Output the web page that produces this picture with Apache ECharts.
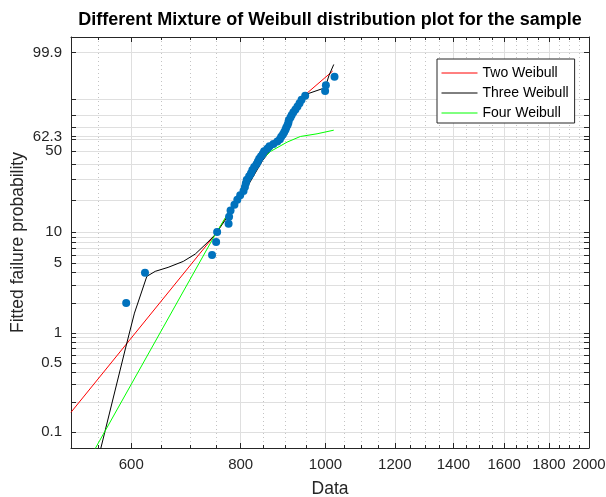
<!DOCTYPE html>
<html>
<head>
<meta charset="utf-8">
<script src="https://cdn.jsdelivr.net/npm/echarts@6/dist/echarts.min.js"></script>
<style>
html,body{margin:0;padding:0;background:#ffffff;}
#chart{width:606px;height:497px;}
</style>
</head>
<body>
<div id="chart"></div>
<script>
// ---------------- data ----------------
// sample points: failure probability (%) and data value
const samplePct = [2, 4, 6, 8, 10, 12, 14, 16, 18, 20, 22, 24, 26, 28, 30, 32, 34, 36, 38, 40,
  42, 44, 46, 48, 50, 52, 54, 56, 58, 60, 62, 64, 66, 68, 70, 72, 74, 76, 78, 80,
  82, 84, 86, 88, 90, 92, 94, 96, 98];
const sampleData = [592, 622, 742, 750, 752, 775, 776, 779, 787, 793, 799, 806, 809, 811, 813, 818, 822, 825, 829, 834,
  837, 840, 844, 848, 851, 858, 863, 872, 881, 887, 890, 894, 897, 900, 902, 905, 907, 908, 912, 915,
  919, 924, 929, 934, 939, 948, 999, 1001, 1024];

// fitted curves
const twoWeibullX   = [512, 748, 802, 845, 900, 936, 948.5, 1019];
const twoWeibullPct = [0.158, 9.43, 23.2, 42.5, 68.0, 88.0, 92.5, 98.86];

const threeWeibullX   = [552, 591, 605, 625, 639, 661, 688, 710, 732, 748, 804, 847, 900, 936, 948.5, 999, 1009, 1022];
const threeWeibullPct = [0.061, 0.703, 1.58, 3.68, 4.13, 4.52, 5.18, 6.12, 7.83, 9.43, 22.1, 42.5, 67.1, 87.6, 92.5, 95.2, 98.2, 99.46];

const fourWeibullX   = [542, 748, 816, 839, 865, 904, 936, 978, 1022];
const fourWeibullPct = [0.061, 9.43, 29.9, 40.8, 49.7, 57.5, 62.3, 64.6, 67.7];

// axes
const xMajorTicks = [600, 800, 1000, 1200, 1400, 1600, 1800, 2000];
const xMinorTicks = [550, 650, 700, 750, 850, 900, 950, 1050, 1100, 1150, 1250, 1300, 1350,
  1450, 1500, 1550, 1650, 1700, 1750, 1850, 1900, 1950];
const yGridPct  = [0.1, 0.2, 0.3, 0.4, 0.5, 0.6, 0.7, 0.8, 0.9, 1, 2, 3, 4, 5, 6, 7, 8, 9,
  10, 20, 30, 40, 50, 60, 62.3, 70, 80, 90, 99.9];
const yLabelPct = [0.1, 0.5, 1, 5, 10, 50, 62.3, 99.9];
const xLimits = [512, 2000];
const yLimitsPct = [0.0688, 99.995];

const titleText = 'Different Mixture of Weibull distribution plot for the sample';
const xName = 'Data';
const yName = 'Fitted failure probability';
const legendNames = ['Two Weibull', 'Three Weibull', 'Four Weibull'];

// ---------------- Weibull probability paper transforms ----------------
const tx = v => Math.log(v);
const ty = p => Math.log(-Math.log(1 - p / 100));
const pairs = (xs, ps) => xs.map((x, i) => [tx(x), ty(ps[i])]);

const FONT = "'Liberation Sans', Arial, Helvetica, sans-serif";
const AX = '#262626';
const GRID = '#dfdfdf';
const MINOR = '#c4c4c4';

const xMin = tx(xLimits[0]), xMax = tx(xLimits[1]);
const yMin = ty(yLimitsPct[0]), yMax = ty(yLimitsPct[1]);

const gridLeft = 71, gridRight = 17, gridTop = 37, gridBottom = 49;
const W = 606;
const plotCenter = gridLeft + (W - gridLeft - gridRight) / 2;

// title width for centering over the plot area
const TITLE_SIZE = 18;
const cv = document.createElement('canvas').getContext('2d');
cv.font = 'bold ' + TITLE_SIZE + "px 'Liberation Sans', Arial, sans-serif";
const titleW = cv.measureText(titleText).width;

const yLabelVals = yLabelPct.map(ty);
function yLabelFmt(v) {
  let best = 0, bd = Infinity;
  yLabelVals.forEach((lv, i) => { const d = Math.abs(lv - v); if (d < bd) { bd = d; best = i; } });
  return String(yLabelPct[best]);
}

function xAxisDef(position, ticks, len, labels, split) {
  return {
    type: 'value', position: position, min: xMin, max: xMax,
    axisLine: { show: len === 5, onZero: false, lineStyle: { color: AX, width: 1 } },
    axisTick: { show: true, inside: true, length: len, customValues: ticks.map(tx), lineStyle: { color: AX, width: 1 } },
    axisLabel: labels ? {
      show: true, customValues: ticks.map(tx), showMinLabel: true, showMaxLabel: true,
      formatter: v => String(Math.round(Math.exp(v))),
      fontFamily: FONT, fontSize: 15, color: AX, margin: 9
    } : { show: false },
    splitLine: split || { show: false },
    axisPointer: { show: false }
  };
}

const xAxes = [
  xAxisDef('bottom', xMajorTicks, 5, true, { show: true, lineStyle: { color: GRID, width: 1 } }),
  xAxisDef('bottom', xMinorTicks, 3, false, { show: true, lineStyle: { color: MINOR, width: 1, type: [1, 3] } }),
  xAxisDef('top', xMajorTicks, 5, false, null),
  xAxisDef('top', xMinorTicks, 3, false, null)
];
Object.assign(xAxes[0], {
  name: xName, nameLocation: 'middle', nameGap: 32,
  nameTextStyle: { fontFamily: FONT, fontSize: 17.5, color: AX }
});

const yAxes = [
  {
    type: 'value', position: 'left', min: yMin, max: yMax,
    name: yName, nameLocation: 'middle', nameGap: 44, nameRotate: 90, nameMoveOverlap: false,
    nameTextStyle: { fontFamily: FONT, fontSize: 17.5, color: AX },
    axisLine: { show: true, onZero: false, lineStyle: { color: AX, width: 1 } },
    axisTick: { show: true, inside: true, length: 5, customValues: yGridPct.map(ty), lineStyle: { color: AX, width: 1 } },
    axisLabel: { show: true, customValues: yLabelVals, showMinLabel: true, showMaxLabel: true, formatter: yLabelFmt,
      fontFamily: FONT, fontSize: 15, color: AX, margin: 9 },
    splitLine: { show: true, lineStyle: { color: GRID, width: 1 } },
    axisPointer: { show: false }
  },
  {
    type: 'value', position: 'right', min: yMin, max: yMax,
    axisLine: { show: true, onZero: false, lineStyle: { color: AX, width: 1 } },
    axisTick: { show: true, inside: true, length: 5, customValues: yGridPct.map(ty), lineStyle: { color: AX, width: 1 } },
    axisLabel: { show: false },
    splitLine: { show: false },
    axisPointer: { show: false }
  }
];

function curve(name, xs, ps, color) {
  return {
    type: 'line', name: name, data: pairs(xs, ps), xAxisIndex: 0, yAxisIndex: 0,
    symbol: 'none', smooth: false, clip: true, z: 3,
    lineStyle: { color: color, width: 1 }, itemStyle: { color: color },
    emphasis: { disabled: true }
  };
}

const chart = echarts.init(document.getElementById('chart'), null, { renderer: 'canvas' });
chart.setOption({
  animation: false,
  backgroundColor: '#ffffff',
  title: {
    text: titleText, left: plotCenter - titleW / 2, top: 11, padding: 0,
    textStyle: { fontFamily: FONT, fontSize: TITLE_SIZE, fontWeight: 'bold', color: '#000000' }
  },
  grid: { left: gridLeft, right: gridRight, top: gridTop, bottom: gridBottom, containLabel: false, outerBoundsMode: 'none' },
  legend: {
    data: legendNames, orient: 'vertical', left: 437, top: 59,
    padding: [7, 6, 3, 4], itemGap: 6, itemWidth: 36, itemHeight: 14,
    backgroundColor: '#ffffff', borderColor: AX, borderWidth: 1, borderRadius: 0,
    itemStyle: { opacity: 0 },
    lineStyle: { width: 1 },
    textStyle: { fontFamily: FONT, fontSize: 14, color: '#000000' },
    selectedMode: false
  },
  xAxis: xAxes,
  yAxis: yAxes,
  series: [
    curve(legendNames[0], twoWeibullX, twoWeibullPct, '#ff0000'),
    curve(legendNames[1], threeWeibullX, threeWeibullPct, '#000000'),
    curve(legendNames[2], fourWeibullX, fourWeibullPct, '#00ff00'),
    {
      type: 'scatter', name: 'Sample', data: pairs(sampleData, samplePct), xAxisIndex: 0, yAxisIndex: 0,
      symbol: 'circle', symbolSize: 8, z: 4, clip: true,
      itemStyle: { color: '#0072bd', opacity: 1 }, emphasis: { disabled: true }
    }
  ]
});
</script>
</body>
</html>
